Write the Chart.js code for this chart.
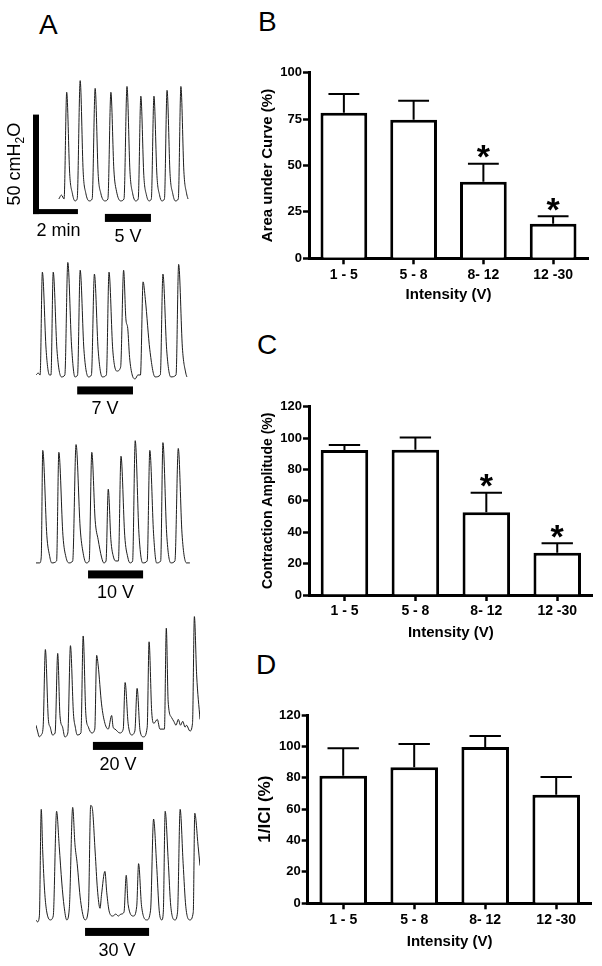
<!DOCTYPE html>
<html>
<head>
<meta charset="utf-8">
<script src="https://cdn.jsdelivr.net/npm/chart.js@4.4.0/dist/chart.umd.min.js"></script>
<style>
  body { margin:0; width:602px; height:966px; background:#fff; position:relative; overflow:hidden;
         font-family:"Liberation Sans", Arial, sans-serif; }
  canvas { position:absolute; }
  .panel { position:absolute; font-size:28px; line-height:28px; color:#000; }
</style>
</head>
<body>
<div class="panel" style="left:39px;top:11px">A</div>
<div class="panel" style="left:258px;top:8px">B</div>
<div class="panel" style="left:257px;top:331px">C</div>
<div class="panel" style="left:256px;top:651px">D</div>

<canvas id="tr1" width="230" height="180" style="left:0;top:69px"></canvas>
<canvas id="tr2" width="230" height="180" style="left:0;top:245px"></canvas>
<canvas id="tr3" width="230" height="180" style="left:0;top:431px"></canvas>
<canvas id="tr4" width="230" height="180" style="left:0;top:603px"></canvas>
<canvas id="tr5" width="230" height="180" style="left:0;top:788px"></canvas>

<canvas id="chartB" width="372" height="260" style="left:230px;top:50px"></canvas>
<canvas id="chartC" width="372" height="265" style="left:230px;top:380px"></canvas>
<canvas id="chartD" width="372" height="266" style="left:230px;top:690px"></canvas>

<script>
// ---- pressure traces: [time (s), pressure (cmH2O above baseline)] ----
const trace5V = [[61,1],[68,3],[75,1],[82,56],[90,14],[97,4],[104,0],[110,1],[118,62],[126,15],[133,4],[142,0],
  [150,1],[158,58],[166,14],[173,4],[184,0],[192,1],[200,56],[208,16],[215,5],[226,0],[235,1],[243,59],[251,15],
  [258,4],[266,0],[273,1],[280,54],[288,13],[295,3],[302,0],[308,1],[315,54],[323,13],[330,3],[336,0],[343,1],
  [350,57],[358,14],[365,4],[372,0],[380,1],[387,59],[395,15],[402,4],[406,1]];
const trace7V = [[0,1],[6,2],[11,1],[17,54],[27,14],[36,1],[40,1],[46,54],[56,14],[68,0],[77,1],[85,59],[95,16],
  [104,0],[111,1],[118,55],[128,14],[140,0],[148,1],[156,53],[166,14],[177,0],[188,1],[195,54],[205,14],[216,3],
  [226,5],[234,55],[240,30],[245,25],[250,10],[257,1],[265,-1],[272,1],[279,1],[286,49],[292,40],[304,14],[318,0],
  [332,1],[339,53],[349,14],[360,0],[374,1],[381,58],[391,15],[400,2],[403,0]];
const trace10V = [[0,0],[10,0],[14,3],[18,58],[29,14],[36,4],[42,0],[55,1],[61,57],[72,14],[80,3],[88,0],[98,1],
  [107,61],[118,18],[126,5],[134,0],[142,1],[149,57],[158,22],[166,12],[175,3],[181,0],[187,1],[193,38],[200,12],
  [207,3],[213,1],[220,1],[227,55],[237,14],[245,3],[251,0],[258,1],[265,63],[275,15],[285,0],[297,1],[304,58],
  [314,15],[322,0],[333,1],[339,62],[349,15],[360,0],[371,1],[380,59],[390,15],[402,0],[411,0]];
const trace20V = [[0,5],[4,2],[9,-1],[14,0],[19,4],[25,44],[33,8],[38,4],[44,0],[51,1],[58,42],[64,10],[71,4],
  [77,-1],[85,1],[92,46],[100,11],[105,4],[110,0],[120,1],[126,51],[133,11],[140,4],[149,1],[157,3],[162,41],
  [166,36],[175,16],[184,6],[193,3],[202,10],[206,4],[211,3],[224,1],[233,3],[238,27],[246,6],[255,0],[264,2],
  [270,24],[278,2],[287,-1],[297,4],[302,48],[309,12],[315,6],[324,8],[331,3],[343,3],[348,55],[353,17],[362,9],
  [368,7],[374,5],[380,8],[386,5],[392,7],[398,4],[402,5],[411,2],[418,6],[423,61],[429,31],[438,8]];
const trace30V = [[0,0],[4,-1],[9,2],[14,57],[18,35],[23,15],[28,5],[38,0],[46,2],[55,56],[62,38],[69,19],[75,7],
  [82,0],[89,6],[98,58],[104,39],[110,29],[119,10],[131,0],[140,6],[146,59],[150,58],[158,35],[164,16],[171,6],
  [175,13],[184,25],[189,14],[196,4],[205,2],[213,3],[220,2],[227,3],[235,4],[241,23],[246,8],[260,2],[269,7],
  [274,29],[282,7],[296,0],[306,5],[314,52],[322,29],[329,5],[336,0],[340,4],[345,56],[353,31],[360,7],[371,0],
  [378,4],[385,57],[393,29],[400,7],[411,0],[420,4],[424,55],[433,38],[438,28]];

// stimulation periods (s) and labels
const stimLabels = ['5 V', '7 V', '10 V', '20 V', '30 V'];
const stimStart = [184, 110, 139, 152, 131];
const stimEnd = [307, 259, 286, 286, 302];

// calibration bars
const scaleBarP = 50;   // cmH2O
const scaleBarT = 120;  // s (2 min)

// ---- bar charts ----
const intensity = ['1 - 5', '5 - 8', '8- 12', '12 -30'];
const aucMean = [78.4, 74.7, 41.3, 18.6];
const aucSem = [10.1, 10.2, 9.7, 4.0];
const aucSig = [false, false, true, true];
const ampMean = [92.4, 92.6, 52.7, 27.0];
const ampSem = [3.2, 7.7, 12.5, 6.0];
const ampSig = [false, false, true, true];
const iciMean = [81.3, 86.7, 99.6, 69.2];
const iciSem = [17.5, 14.8, 7.0, 11.3];
const iciSig = [false, false, false, false];

const FONT = '"Liberation Sans", Arial, sans-serif';

// draws stimulus bar, its label and (for first trace) the calibration bars
const traceMarks = {
  id: 'traceMarks',
  afterDraw(chart, args, opts) {
    const {ctx} = chart;
    const x = chart.scales.x, y = chart.scales.y;
    ctx.save();
    ctx.fillStyle = '#000';
    const x0 = x.getPixelForValue(opts.start), x1 = x.getPixelForValue(opts.end);
    const yb = y.getPixelForValue(0) + opts.barOffset;
    ctx.fillRect(x0, yb - 4, x1 - x0, 8);
    ctx.font = '18px ' + FONT;
    ctx.textAlign = 'center';
    ctx.textBaseline = 'middle';
    ctx.fillText(opts.label, (x0 + x1) / 2, yb + 19);

    if (opts.scaleBar) {
      const sx = x.getPixelForValue(0);
      const sy0 = y.getPixelForValue(-5.5);
      const sy1 = y.getPixelForValue(-5.5 + scaleBarP);
      const sx1 = x.getPixelForValue(scaleBarT);
      ctx.fillRect(sx - 3, sy1, 6, sy0 - sy1 + 2.5);
      ctx.fillRect(sx - 3, sy0 - 2.5, sx1 - sx, 5);
      ctx.fillText('2 min', sx - 3 + (sx1 - sx) / 2 + 3, sy0 + 19);

      // rotated "50 cmH2O"
      ctx.save();
      ctx.translate(sx - 20.5, (sy0 + sy1) / 2 + 1);
      ctx.rotate(-Math.PI / 2);
      ctx.textAlign = 'left';
      ctx.textBaseline = 'middle';
      ctx.font = '18px ' + FONT;
      const a = '50 cmH', o = 'O';
      const wa = ctx.measureText(a).width, wo = ctx.measureText(o).width;
      ctx.font = '12px ' + FONT;
      const w2 = ctx.measureText('2').width;
      let cx = -(wa + w2 + wo) / 2;
      ctx.font = '18px ' + FONT;
      ctx.fillText(a, cx, 0); cx += wa;
      ctx.font = '12px ' + FONT;
      ctx.fillText('2', cx, 5); cx += w2;
      ctx.font = '18px ' + FONT;
      ctx.fillText(o, cx, 0);
      ctx.restore();
    }
    ctx.restore();
  }
};

function drawTrace(id, pts, i, barOffset, scaleBar) {
  new Chart(document.getElementById(id), {
    type: 'line',
    data: { datasets: [{
      data: pts.map(([t, p]) => ({x: t, y: p})),
      borderColor: '#1c1c1c',
      borderWidth: 1,
      pointRadius: 0,
      cubicInterpolationMode: 'monotone'
    }]},
    options: {
      responsive: false,
      animation: false,
      devicePixelRatio: 1,
      layout: { padding: {left: 36, right: 30, top: 0, bottom: 24.8} },
      scales: {
        x: { type: 'linear', min: 0, max: 438, display: false },
        y: { min: -12, max: 68, display: false }
      },
      plugins: {
        legend: { display: false },
        tooltip: { enabled: false },
        traceMarks: { start: stimStart[i], end: stimEnd[i], label: stimLabels[i], barOffset, scaleBar }
      }
    },
    plugins: [traceMarks]
  });
}

drawTrace('tr1', trace5V, 0, 17, true);
drawTrace('tr2', trace7V, 1, 13.5, false);
drawTrace('tr3', trace10V, 2, 11.5, false);
drawTrace('tr4', trace20V, 3, 11, false);
drawTrace('tr5', trace30V, 4, 12, false);

// error bars (upper SEM) and significance stars
const errBars = {
  id: 'errBars',
  afterDatasetsDraw(chart, args, opts) {
    const {ctx} = chart;
    const y = chart.scales.y;
    const meta = chart.getDatasetMeta(0);
    ctx.save();
    ctx.strokeStyle = '#000';
    ctx.fillStyle = '#000';
    ctx.lineWidth = 2;
    meta.data.forEach((bar, i) => {
      const top = y.getPixelForValue(opts.mean[i] + opts.err[i]);
      const half = bar.width * 0.33;
      ctx.beginPath();
      ctx.moveTo(bar.x, bar.y);
      ctx.lineTo(bar.x, top);
      ctx.moveTo(bar.x - half, top);
      ctx.lineTo(bar.x + half, top);
      ctx.stroke();
      if (opts.sig[i]) {
        ctx.font = 'bold 34px ' + FONT;
        ctx.textAlign = 'center';
        ctx.textBaseline = 'alphabetic';
        const m = ctx.measureText('*');
        const target = top - 12;
        ctx.fillText('*', bar.x, target + (m.actualBoundingBoxAscent - m.actualBoundingBoxDescent) / 2);
      }
    });
    ctx.restore();
  }
};

function barChart(id, mean, err, sig, yTitle, L) {
  new Chart(document.getElementById(id), {
    type: 'bar',
    data: {
      labels: intensity,
      datasets: [{
        data: mean,
        backgroundColor: '#fff',
        borderColor: '#000',
        borderWidth: 3,
        borderSkipped: 'start',
        barPercentage: 0.67,
        categoryPercentage: 1
      }]
    },
    options: {
      responsive: false,
      animation: false,
      devicePixelRatio: 1,
      layout: { padding: {left: 0, top: L.top, right: L.right, bottom: 0} },
      scales: {
        x: {
          offset: true,
          grid: { offset: false, display: true, drawOnChartArea: false, tickLength: 6, tickWidth: 2.5, tickColor: '#000' },
          border: { display: true, color: '#000', width: 3 },
          ticks: { color: '#000', font: {family: FONT, size: 14, weight: 'bold'}, padding: 2, maxRotation: 0, autoSkip: false },
          title: { display: true, text: 'Intensity (V)', color: '#000',
                   font: {family: FONT, size: 15, weight: 'bold'}, padding: {top: 0, bottom: L.xtPad} },
          afterFit(s) { s.height = L.xH; }
        },
        y: {
          min: 0, max: L.yMax,
          ticks: { stepSize: L.step, color: '#000', font: {family: FONT, size: 13, weight: 'bold'}, padding: 1 },
          grid: { display: true, drawOnChartArea: false, tickLength: 6, tickWidth: 2.5, tickColor: '#000' },
          border: { display: true, color: '#000', width: 3 },
          title: { display: true, text: yTitle, color: '#000',
                   font: {family: FONT, size: L.ytSize, weight: 'bold'}, padding: {top: L.ytPad, bottom: 0} },
          afterFit(s) { s.width = L.left; }
        }
      },
      plugins: {
        legend: { display: false },
        tooltip: { enabled: false },
        errBars: { mean, err, sig }
      }
    },
    plugins: [errBars]
  });
}

barChart('chartB', aucMean, aucSem, aucSig, 'Area under Curve (%)',
  {top: 22.7, right: 14, left: 79, xH: 51.7, xtPad: 6, yMax: 100, step: 25, ytSize: 15, ytPad: 29.3});
barChart('chartC', ampMean, ampSem, ampSig, 'Contraction Amplitude (%)',
  {top: 26.7, right: 9.3, left: 79, xH: 50, xtPad: 3, yMax: 120, step: 20, ytSize: 14, ytPad: 29.9});
barChart('chartD', iciMean, iciSem, iciSig, '1/ICI (%)',
  {top: 25, right: 10.3, left: 77.7, xH: 52.7, xtPad: 5.5, yMax: 120, step: 20, ytSize: 17, ytPad: 25.3});
</script>
</body>
</html>
